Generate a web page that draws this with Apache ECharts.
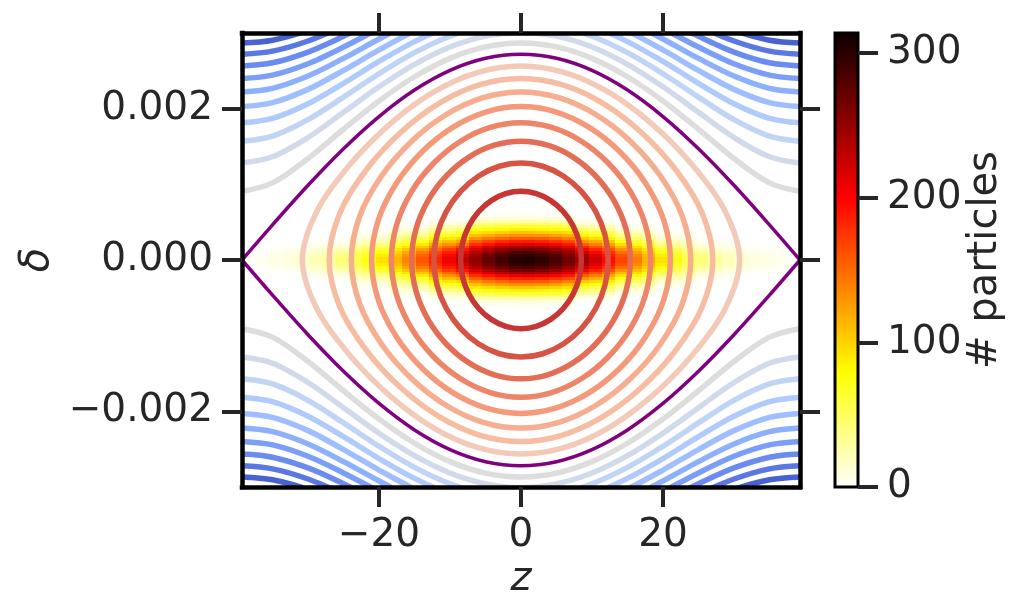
<!DOCTYPE html>
<html>
<head>
<meta charset="utf-8">
<title>Longitudinal phase space</title>
<script src="https://cdn.jsdelivr.net/npm/echarts@6.0.0/dist/echarts.min.js"></script>
<style>
  html, body { margin: 0; padding: 0; background: #fff; }
  #chart { width: 1025px; height: 616px; }
</style>
</head>
<body>
<div id="chart"></div>
<script>
// ---- data (delta in units of 1e-3) ----
const zTicks = [-20, 0, 20];
const deltaTicks = [-2, 0, 2];
const countTicks = [0, 100, 200, 300];
const countMax = 314;

// histogram bins (40 x 40)
const zBinWidth = 1.873;
const deltaBinWidth = 0.038;
const zBinCenters = [-36.37, -34.50, -32.62, -30.75, -28.88, -27.00, -25.13, -23.26, -21.39, -19.51,
  -17.64, -15.77, -13.89, -12.02, -10.15, -8.28, -6.40, -4.53, -2.66, -0.78,
  1.09, 2.96, 4.83, 6.71, 8.58, 10.45, 12.33, 14.20, 16.07, 17.94,
  19.82, 21.69, 23.56, 25.44, 27.31, 29.18, 31.05, 32.93, 34.80, 36.67];
const deltaBinCenters = [-0.741, -0.703, -0.665, -0.627, -0.589, -0.551, -0.513, -0.475, -0.437, -0.399,
  -0.361, -0.323, -0.285, -0.247, -0.209, -0.171, -0.133, -0.095, -0.057, -0.019,
  0.019, 0.057, 0.095, 0.133, 0.171, 0.209, 0.247, 0.285, 0.323, 0.361,
  0.399, 0.437, 0.475, 0.513, 0.551, 0.589, 0.627, 0.665, 0.703, 0.741];
// counts along the centre row, per z bin
const peakCounts = [5, 8, 12, 17, 24, 33, 44, 58, 75, 94,
  115, 138, 162, 185, 207, 230, 252, 273, 290, 302,
  305, 298, 286, 268, 246, 222, 196, 170, 143, 117,
  94, 74, 57, 43, 32, 23, 16, 11, 8, 5];
// which delta profile each z bin follows (the spread narrows towards the ends)
const columnProfile = [5, 5, 5, 5, 4, 4, 4, 3, 3, 3,
  2, 2, 2, 1, 1, 1, 0, 0, 0, 0,
  0, 0, 0, 0, 1, 1, 1, 2, 2, 2,
  3, 3, 3, 4, 4, 4, 5, 5, 5, 5];
// relative fall-off away from delta = 0, one value per bin outwards
const deltaProfiles = [
  [0.997, 0.974, 0.930, 0.868, 0.791, 0.705, 0.614, 0.522, 0.434, 0.353, 0.280, 0.217, 0.150, 0.090, 0.040, 0.015, 0.005, 0.002, 0, 0],
  [0.995, 0.960, 0.900, 0.820, 0.730, 0.630, 0.530, 0.430, 0.340, 0.255, 0.180, 0.115, 0.060, 0.025, 0.008, 0.002, 0, 0, 0, 0],
  [0.990, 0.945, 0.870, 0.770, 0.660, 0.545, 0.430, 0.325, 0.230, 0.150, 0.085, 0.040, 0.015, 0.004, 0, 0, 0, 0, 0, 0],
  [0.985, 0.925, 0.820, 0.690, 0.545, 0.405, 0.280, 0.175, 0.100, 0.050, 0.020, 0.006, 0, 0, 0, 0, 0, 0, 0, 0],
  [0.970, 0.880, 0.720, 0.530, 0.350, 0.200, 0.100, 0.040, 0.012, 0.003, 0, 0, 0, 0, 0, 0, 0, 0, 0, 0],
  [0.950, 0.820, 0.600, 0.380, 0.200, 0.090, 0.030, 0.008, 0, 0, 0, 0, 0, 0, 0, 0, 0, 0, 0, 0]
];

// closed contours inside the bucket: one quadrant each (z >= 0, delta >= 0)
const closedZ = [
  [0, 2.161, 4.190, 5.953, 7.327, 8.202, 8.503],
  [0, 3.060, 5.953, 8.503, 10.522, 11.828, 12.282],
  [0, 3.753, 7.327, 10.522, 13.100, 14.801, 15.399],
  [0, 4.339, 8.503, 12.282, 15.399, 17.505, 18.257],
  [0, 4.857, 9.555, 13.889, 17.556, 20.109, 21.043],
  [0, 5.327, 10.522, 15.399, 19.650, 22.734, 23.902],
  [0, 5.762, 11.426, 16.847, 21.745, 25.512, 27.019],
  [0, 6.167, 12.282, 18.257, 23.902, 28.646, 30.798]
];
const closedDelta = [
  [0.907, 0.876, 0.785, 0.641, 0.453, 0.235, 0],
  [1.282, 1.239, 1.110, 0.907, 0.641, 0.332, 0],
  [1.570, 1.517, 1.360, 1.110, 0.785, 0.406, 0],
  [1.813, 1.752, 1.570, 1.282, 0.907, 0.469, 0],
  [2.027, 1.958, 1.756, 1.434, 1.014, 0.525, 0],
  [2.221, 2.145, 1.923, 1.570, 1.110, 0.575, 0],
  [2.399, 2.317, 2.077, 1.696, 1.199, 0.621, 0],
  [2.564, 2.477, 2.221, 1.813, 1.282, 0.664, 0]
];

// open contours outside the bucket and the separatrix, upper half for z >= 0
const zOpen = [0, 5, 10, 15, 20, 25, 30, 35, 39.3];
const separatrix = [2.720, 2.666, 2.506, 2.246, 1.896, 1.471, 0.988, 0.465, 0];
const openDelta = [
  [2.867, 2.816, 2.665, 2.422, 2.102, 1.728, 1.341, 1.019, 0.907],
  [3.007, 2.958, 2.815, 2.586, 2.289, 1.952, 1.619, 1.364, 1.282],
  [3.141, 3.094, 2.957, 2.740, 2.462, 2.152, 1.855, 1.638, 1.570],
  [3.269, 3.224, 3.093, 2.886, 2.624, 2.335, 2.065, 1.872, 1.813],
  [3.392, 3.349, 3.223, 3.025, 2.776, 2.505, 2.255, 2.080, 2.027],
  [3.512, 3.470, 3.348, 3.158, 2.920, 2.664, 2.431, 2.269, 2.221],
  [3.627, 3.586, 3.469, 3.286, 3.058, 2.814, 2.594, 2.444, 2.399],
  [3.738, 3.699, 3.585, 3.409, 3.189, 2.957, 2.748, 2.606, 2.564],
  [3.847, 3.809, 3.698, 3.527, 3.316, 3.092, 2.894, 2.760, 2.720],
  [3.952, 3.915, 3.808, 3.642, 3.438, 3.223, 3.033, 2.905, 2.867]
];

// ---- styles ----
const closedColors = ['#c73534', '#d75344', '#e46d56', '#ee8568', '#f49a7b', '#f7ad8f', '#f7bda3', '#f2cab7'];
const openColors = ['#dddddd', '#d0daeb', '#c0d4f5', '#b0cafc', '#9fbeff', '#8db0fe', '#7b9ff9', '#6a8cf0', '#5978e3', '#4962d3'];
const hotR = ['#ffffff', '#ffff82', '#ffff04', '#ffae00', '#ff5a00', '#ff0700', '#b20000', '#5e0000', '#0b0000'];
const FONT = 'DejaVu Sans';
const TEXT = '#262626';

// ---- build tables ----
const heatCells = [];
zBinCenters.forEach((z, i) => {
  const profile = deltaProfiles[columnProfile[i]];
  deltaBinCenters.forEach((d, j) => {
    const k = j < 20 ? 19 - j : j - 20;
    const n = Math.round(peakCounts[i] * profile[k]);
    if (n > 0) heatCells.push([z, d, n]);
  });
});

// mirror a quadrant into a closed loop
function closedLoop(zq, dq) {
  const pts = [];
  const last = zq.length - 1;
  for (let k = 0; k <= last; k++) pts.push([zq[k], dq[k]]);
  for (let k = last - 1; k >= 0; k--) pts.push([zq[k], -dq[k]]);
  for (let k = 1; k <= last; k++) pts.push([-zq[k], -dq[k]]);
  for (let k = last - 1; k >= 1; k--) pts.push([-zq[k], dq[k]]);
  return pts;
}
function openBranch(dq, sign) {
  const pts = [];
  for (let k = zOpen.length - 1; k > 0; k--) pts.push([-zOpen[k], sign * dq[k]]);
  for (let k = 0; k < zOpen.length; k++) pts.push([zOpen[k], sign * dq[k]]);
  return pts;
}

const curves = [];
closedZ.forEach((zq, i) => curves.push({ points: closedLoop(zq, closedDelta[i]), closed: true, color: closedColors[i], width: 5.5 }));
openDelta.forEach((dq, i) => {
  curves.push({ points: openBranch(dq, 1), closed: false, color: openColors[i], width: 5.5 });
  curves.push({ points: openBranch(dq, -1), closed: false, color: openColors[i], width: 5.5 });
});
curves.push({ points: openBranch(separatrix, 1), closed: false, color: '#800080', width: 3.5 });
curves.push({ points: openBranch(separatrix, -1), closed: false, color: '#800080', width: 3.5 });

const series = [
  {
    // 2d histogram
    type: 'custom',
    xAxisIndex: 0, yAxisIndex: 0,
    data: heatCells,
    encode: { x: 0, y: 1 },
    clip: true, silent: true, animation: false,
    renderItem: function (params, api) {
      const z = api.value(0), d = api.value(1);
      const p0 = api.coord([z - zBinWidth / 2, d + deltaBinWidth / 2]);
      const p1 = api.coord([z + zBinWidth / 2, d - deltaBinWidth / 2]);
      const x0 = Math.round(p0[0]), y0 = Math.round(p0[1]);
      return {
        type: 'rect',
        shape: { x: x0, y: y0, width: Math.round(p1[0]) - x0, height: Math.round(p1[1]) - y0 },
        style: { fill: api.visual('color') }
      };
    }
  },
  {
    // contour lines + separatrix
    type: 'custom',
    xAxisIndex: 0, yAxisIndex: 0,
    data: curves.map((c, i) => [0, 0, i]),
    clip: true, silent: true, animation: false,
    renderItem: function (params, api) {
      const c = curves[params.dataIndex];
      return {
        type: c.closed ? 'polygon' : 'polyline',
        shape: { points: c.points.map(p => api.coord(p)), smooth: 0.33 },
        style: { fill: 'none', stroke: c.color, lineWidth: c.width }
      };
    }
  },
  {
    // colour bar
    type: 'custom',
    xAxisIndex: 2, yAxisIndex: 2,
    data: [[0, countMax]],
    clip: false, silent: true, animation: false,
    renderItem: function (params, api) {
      const top = api.coord([0, api.value(1)]);
      const bottom = api.coord([1, 0]);
      return {
        type: 'rect',
        shape: { x: top[0], y: top[1], width: bottom[0] - top[0], height: bottom[1] - top[1] },
        style: {
          fill: new echarts.graphic.LinearGradient(0, 1, 0, 0, [
            { offset: 0, color: '#ffffff' },
            { offset: 0.254, color: '#ffff00' },
            { offset: 0.635, color: '#ff0000' },
            { offset: 1, color: '#0b0000' }
          ]),
          stroke: '#000', lineWidth: 3
        }
      };
    }
  }
];

const minus = s => String(s).replace('-', '\u2212');
const spine = { show: true, onZero: false, lineStyle: { color: '#000', width: 4.5, cap: 'square' } };
const tickStyle = { color: TEXT, width: 4 };
const labelFont = { fontFamily: FONT, fontSize: 39, color: TEXT };
const nameFont = { fontFamily: FONT, fontSize: 40, color: TEXT };

const chart = echarts.init(document.getElementById('chart'), null, { renderer: 'canvas' });
chart.setOption({
  backgroundColor: '#ffffff',
  animation: false,
  grid: [
    { left: 242, top: 33, width: 558, height: 454 },
    { left: 835, top: 33, width: 23, height: 454 }
  ],
  visualMap: {
    type: 'continuous', show: false, seriesIndex: 0, dimension: 2,
    min: 0, max: countMax, inRange: { color: hotR }
  },
  xAxis: [
    {
      gridIndex: 0, type: 'value', position: 'bottom', min: -39.3, max: 39.3, z: 5,
      axisLine: spine,
      axisTick: { show: true, length: 20, lineStyle: tickStyle, customValues: zTicks },
      axisLabel: Object.assign({ margin: 29, customValues: zTicks, formatter: v => minus(v) }, labelFont),
      splitLine: { show: false },
      name: 'z', nameLocation: 'middle', nameGap: 68,
      nameTextStyle: Object.assign({ fontStyle: 'italic' }, nameFont)
    },
    {
      gridIndex: 0, type: 'value', position: 'top', min: -39.3, max: 39.3, z: 5,
      axisLine: spine,
      axisTick: { show: true, length: 20, lineStyle: tickStyle, customValues: zTicks },
      axisLabel: { show: false },
      splitLine: { show: false }
    },
    { gridIndex: 1, type: 'value', min: 0, max: 1, show: false }
  ],
  yAxis: [
    {
      gridIndex: 0, type: 'value', position: 'left', min: -3, max: 3, z: 5,
      axisLine: spine,
      axisTick: { show: true, length: 20, lineStyle: tickStyle, customValues: deltaTicks },
      axisLabel: Object.assign({ margin: 29, customValues: deltaTicks, formatter: v => minus((v * 1e-3).toFixed(3)) }, labelFont),
      splitLine: { show: false },
      name: '\u03b4', nameLocation: 'middle', nameRotate: 90, nameGap: 182,
      nameTextStyle: Object.assign({ fontStyle: 'italic' }, nameFont)
    },
    {
      gridIndex: 0, type: 'value', position: 'right', min: -3, max: 3, z: 5,
      axisLine: spine,
      axisTick: { show: true, length: 20, lineStyle: tickStyle, customValues: deltaTicks },
      axisLabel: { show: false },
      splitLine: { show: false }
    },
    {
      gridIndex: 1, type: 'value', position: 'right', min: 0, max: countMax, z: 5,
      axisLine: { show: false, onZero: false },
      axisTick: { show: true, length: 20, lineStyle: tickStyle, customValues: countTicks },
      axisLabel: Object.assign({ margin: 29, customValues: countTicks }, labelFont),
      splitLine: { show: false },
      name: '# particles', nameLocation: 'middle', nameRotate: 90, nameGap: 108,
      nameTextStyle: nameFont
    }
  ],
  series: series
});
</script>
</body>
</html>
